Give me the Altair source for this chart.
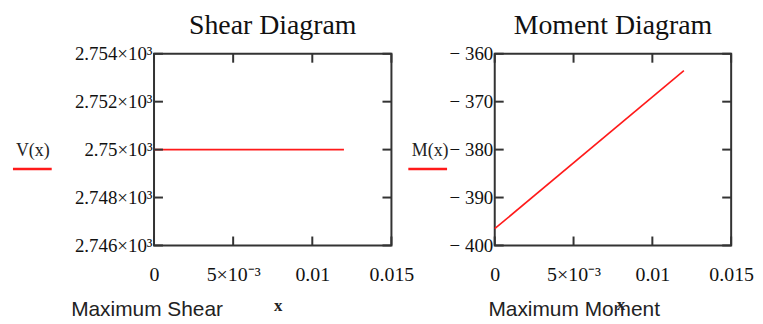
import altair as alt
import pandas as pd

# ---- data ----
shear_x = [0.0, 0.012]
shear_v = [2750.0, 2750.0]
moment_x = [0.0, 0.012]
moment_m = [-396.5, -363.5]
x_ticks = [0.0, 0.005, 0.01, 0.015]
shear_ticks = [2746, 2748, 2750, 2752, 2754]
moment_ticks = [-400, -390, -380, -370, -360]
titles = ["Shear Diagram", "Moment Diagram"]
legend_labels = ["V(x)", "M(x)"]
bottom_labels = ["Maximum Shear", "Maximum Moment"]
x_names = ["x", "x"]

H = 193
TICK = 9
RED = "#ff1a1a"
FRAME = "#333333"
SERIF = "Liberation Serif"
SANS = "Liberation Sans"

X_EXPR = ("datum.value == 0 ? '0' : (abs(datum.value - 0.005) < 1e-9 ? '5×10⁻³' : "
          "format(datum.value, '~g'))")


def one(text):
    return pd.DataFrame({"t": [text]})


def panel(W, xs, ys, yticks, ydomain, yexpr, title, legend, bottom, xname,
          legend_cx, legend_x1, legend_x2, bottom_cx, xname_cx, xname_y):
    xscale = alt.Scale(domain=[0, 0.015], nice=False, zero=False)
    yscale = alt.Scale(domain=ydomain, nice=False, zero=False)
    xaxis = alt.Axis(values=x_ticks, labelExpr=X_EXPR, ticks=False, domain=False,
                     grid=False, title=None, labelFont=SERIF, labelFontSize=20,
                     labelPadding=19, labelColor="#111", labelFlush=False)
    yaxis = alt.Axis(values=yticks, labelExpr=yexpr, ticks=False, domain=False,
                     grid=False, title=None, labelFont=SERIF, labelFontSize=19,
                     labelPadding=2, labelColor="#111", labelFlush=False)

    df = pd.DataFrame({"x": xs, "y": ys})
    line = alt.Chart(df).mark_line(color=RED, strokeWidth=1.6).encode(
        x=alt.X("x:Q", scale=xscale, axis=xaxis),
        y=alt.Y("y:Q", scale=yscale, axis=yaxis),
    )
    ydf = pd.DataFrame({"y": yticks})
    xdf = pd.DataFrame({"x": x_ticks})
    left_t = alt.Chart(ydf).mark_rule(color=FRAME, strokeWidth=2).encode(
        y=alt.Y("y:Q", scale=yscale, axis=yaxis), x=alt.value(0), x2=alt.value(TICK))
    right_t = alt.Chart(ydf).mark_rule(color=FRAME, strokeWidth=2).encode(
        y=alt.Y("y:Q", scale=yscale, axis=yaxis), x=alt.value(W - TICK), x2=alt.value(W))
    top_t = alt.Chart(xdf).mark_rule(color=FRAME, strokeWidth=2).encode(
        x=alt.X("x:Q", scale=xscale, axis=xaxis), y=alt.value(0), y2=alt.value(TICK))
    bot_t = alt.Chart(xdf).mark_rule(color=FRAME, strokeWidth=2).encode(
        x=alt.X("x:Q", scale=xscale, axis=xaxis), y=alt.value(H - TICK), y2=alt.value(H))

    leg_text = alt.Chart(one(legend)).mark_text(
        font=SERIF, fontSize=18, color="#222", baseline="middle", align="center"
    ).encode(text="t:N", x=alt.value(legend_cx), y=alt.value(98))
    leg_rule = alt.Chart(one(legend)).mark_rule(color=RED, strokeWidth=2.5).encode(
        x=alt.value(legend_x1), x2=alt.value(legend_x2), y=alt.value(116))
    bot_text = alt.Chart(one(bottom)).mark_text(
        font=SANS, fontSize=21, color="#222", baseline="middle", align="center"
    ).encode(text="t:N", x=alt.value(bottom_cx), y=alt.value(258))
    x_text = alt.Chart(one(xname)).mark_text(
        font=SERIF, fontSize=17, fontWeight="bold", color="#222", baseline="middle",
        align="center"
    ).encode(text="t:N", x=alt.value(xname_cx), y=alt.value(xname_y))

    return alt.layer(line, left_t, right_t, top_t, bot_t, leg_text, leg_rule,
                     bot_text, x_text).properties(
        width=W, height=H,
        title=alt.TitleParams(title, font=SERIF, fontSize=28, fontWeight="normal",
                              color="#111", anchor="middle", offset=5),
    )


left = panel(239, shear_x, shear_v, shear_ticks, [2746, 2754],
             "format(datum.value / 1000, '.4~g') + '×10³'",
             titles[0], legend_labels[0], bottom_labels[0], x_names[0],
             -122, -142, -103, -7, 125, 254)
right = panel(238, moment_x, moment_m, moment_ticks, [-400, -360],
              "'− ' + format(-datum.value, 'd')",
              titles[1], legend_labels[1], bottom_labels[1], x_names[1],
              -65, -87, -48, 80, 127, 253)

chart = alt.hconcat(left, right, spacing=104, bounds="flush").properties(
    padding={"left": 2, "top": 2, "right": 0, "bottom": 0}
).configure_view(stroke=FRAME, strokeWidth=2)

chart.save("out.html", embed_options={"renderer": "svg", "actions": False})
